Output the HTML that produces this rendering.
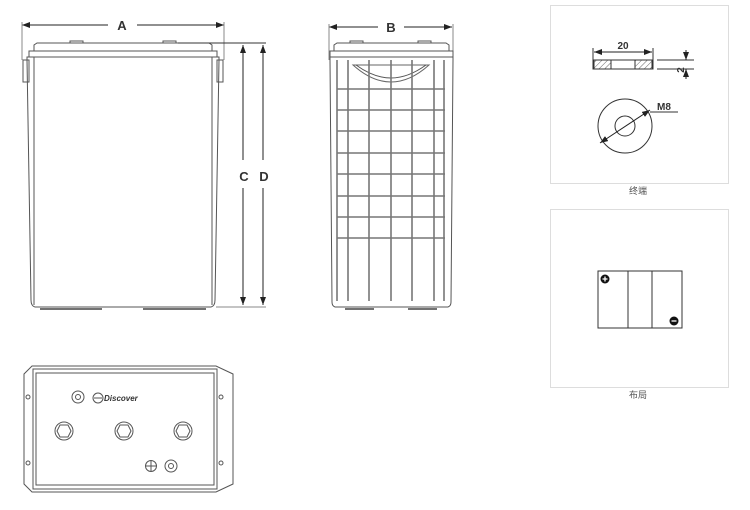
<!DOCTYPE html>
<html><head><meta charset="utf-8"><style>
html,body{margin:0;padding:0;background:#fff;width:750px;height:510px;overflow:hidden}
svg{display:block}
text{font-family:"Liberation Sans","Noto Sans CJK SC",sans-serif}
</style></head><body>
<svg width="750" height="510" viewBox="0 0 750 510" xmlns="http://www.w3.org/2000/svg">
<defs>
<marker id="ar" markerWidth="8" markerHeight="6" refX="8" refY="3" orient="auto-start-reverse" markerUnits="userSpaceOnUse"><path d="M0,0 L8,3 L0,6 z" fill="#222"/></marker>
<pattern id="hatch" width="4" height="4" patternUnits="userSpaceOnUse" patternTransform="rotate(45)"><line x1="0" y1="0" x2="0" y2="4" stroke="#444" stroke-width="0.8"/></pattern>
</defs>
<g fill="none" stroke="#555" stroke-width="1">
<!-- FRONT VIEW -->
<line x1="22" y1="25" x2="108" y2="25" stroke="#222" marker-start="url(#ar)"/>
<line x1="137" y1="25" x2="224" y2="25" stroke="#222" marker-end="url(#ar)"/>
<line x1="22" y1="22" x2="22" y2="60" stroke="#888"/>
<line x1="224" y1="22" x2="224" y2="60" stroke="#888"/>
<path d="M34,51 L34,45 L37,43 L209,43 L212,45 L212,51"/>
<rect x="70" y="41" width="13" height="2"/><rect x="163" y="41" width="13" height="2"/>
<rect x="29" y="51" width="188" height="6"/>
<rect x="23" y="60" width="6" height="22"/><rect x="217" y="60" width="6" height="22"/>
<path d="M27,57 L27,60 L31,300 Q31,306 35,307 L211,307 Q215,306 215,300 L219,60 L219,57 Z"/>
<path d="M34,57 L34,305 M212,57 L212,305"/>
<line x1="40" y1="309" x2="102" y2="309" stroke="#444" stroke-width="1.5"/>
<line x1="143" y1="309" x2="206" y2="309" stroke="#444" stroke-width="1.5"/>
<line x1="178" y1="43" x2="266" y2="43" stroke="#333"/>
<line x1="216" y1="307" x2="266" y2="307" stroke="#888"/>
<line x1="243" y1="160" x2="243" y2="45" stroke="#222" marker-end="url(#ar)"/>
<line x1="243" y1="188" x2="243" y2="305" stroke="#222" marker-end="url(#ar)"/>
<line x1="263" y1="160" x2="263" y2="45" stroke="#222" marker-end="url(#ar)"/>
<line x1="263" y1="188" x2="263" y2="305" stroke="#222" marker-end="url(#ar)"/>
<!-- SIDE VIEW -->
<line x1="329" y1="27" x2="378" y2="27" stroke="#222" marker-start="url(#ar)"/>
<line x1="404" y1="27" x2="452" y2="27" stroke="#222" marker-end="url(#ar)"/>
<line x1="329" y1="24" x2="329" y2="60" stroke="#888"/>
<line x1="453" y1="24" x2="453" y2="60" stroke="#888"/>
<path d="M334,51 L334,45 L337,43 L446,43 L449,45 L449,51"/>
<rect x="350" y="41" width="13" height="2"/><rect x="418" y="41" width="13" height="2"/>
<rect x="330" y="51" width="123" height="6"/>
<path d="M330,57 L330,60 L332,302 Q332,306 335,307 L448,307 Q451,306 451,302 L453,60 L453,57 Z"/>
<path d="M353,65 Q372,82 391,82 Q410,82 429,65 Z" stroke="#666"/>
<path d="M356,65 Q374,78 391,78 Q408,78 426,65"/>
<g stroke="#777" stroke-width="1.6">
<line x1="337" y1="60" x2="337" y2="301"/><line x1="348" y1="60" x2="348" y2="301"/>
<line x1="369" y1="60" x2="369" y2="301"/><line x1="391" y1="60" x2="391" y2="301"/>
<line x1="412" y1="60" x2="412" y2="301"/><line x1="434" y1="60" x2="434" y2="301"/>
<line x1="444" y1="60" x2="444" y2="301"/>
<line x1="337" y1="89" x2="445" y2="89"/><line x1="337" y1="110" x2="445" y2="110"/>
<line x1="337" y1="131" x2="445" y2="131"/><line x1="337" y1="153" x2="445" y2="153"/>
<line x1="337" y1="174" x2="445" y2="174"/><line x1="337" y1="196" x2="445" y2="196"/>
<line x1="337" y1="217" x2="445" y2="217"/><line x1="337" y1="238" x2="445" y2="238"/>
</g>
<line x1="345" y1="309" x2="374" y2="309" stroke="#444" stroke-width="1.5"/>
<line x1="408" y1="309" x2="437" y2="309" stroke="#444" stroke-width="1.5"/>
<!-- TOP VIEW -->
<path d="M24,374 L32,366 L216,366 L233,374 L233,484 L216,492 L32,492 L24,484 Z"/>
<rect x="33" y="369" width="184" height="120"/>
<rect x="36" y="373" width="178" height="112"/>
<circle cx="28" cy="397" r="2"/><circle cx="28" cy="463" r="2"/>
<circle cx="221" cy="397" r="2"/><circle cx="221" cy="463" r="2"/>
<circle cx="78" cy="397" r="6"/><circle cx="78" cy="397" r="2.5"/>
<circle cx="98" cy="398" r="5"/><line x1="94" y1="398" x2="102" y2="398"/>
<circle cx="64" cy="431" r="9"/><path d="M60,425 L68,425 L71,431 L68,437 L60,437 L57,431 Z"/>
<circle cx="124" cy="431" r="9"/><path d="M120,425 L128,425 L131,431 L128,437 L120,437 L117,431 Z"/>
<circle cx="183" cy="431" r="9"/><path d="M179,425 L187,425 L190,431 L187,437 L179,437 L176,431 Z"/>
<circle cx="151" cy="466" r="5.5"/><path d="M146,466 H156 M151,461 V471"/>
<circle cx="171" cy="466" r="6"/><circle cx="171" cy="466" r="2.5"/>
<!-- PANELS -->
<rect x="550.5" y="5.5" width="178" height="178" stroke="#ddd"/>
<rect x="550.5" y="209.5" width="178" height="178" stroke="#ddd"/>
<!-- washer -->
<rect x="593" y="60" width="60" height="9" stroke="#333"/>
<rect x="594" y="60" width="17" height="9" fill="url(#hatch)" stroke="#333"/>
<rect x="635" y="60" width="17" height="9" fill="url(#hatch)" stroke="#333"/>
<line x1="611" y1="60" x2="611" y2="69" stroke="#333"/><line x1="635" y1="60" x2="635" y2="69" stroke="#333"/>
<line x1="593" y1="48" x2="593" y2="60" stroke="#333"/><line x1="653" y1="48" x2="653" y2="60" stroke="#333"/>
<line x1="594" y1="52" x2="652" y2="52" stroke="#222" marker-start="url(#ar)" marker-end="url(#ar)"/>
<line x1="657" y1="60" x2="694" y2="60" stroke="#333"/><line x1="657" y1="69" x2="694" y2="69" stroke="#333"/>
<line x1="686" y1="50" x2="686" y2="60" stroke="#222" marker-end="url(#ar)"/>
<line x1="686" y1="79" x2="686" y2="69" stroke="#222" marker-end="url(#ar)"/>
<circle cx="625" cy="126" r="27" stroke="#333"/>
<circle cx="625" cy="126" r="10" stroke="#333"/>
<line x1="600" y1="143" x2="650" y2="110" stroke="#222" marker-start="url(#ar)" marker-end="url(#ar)"/>
<line x1="650" y1="112" x2="678" y2="112" stroke="#333"/>
<!-- layout -->
<rect x="598" y="271" width="84" height="57" stroke="#333"/>
<line x1="628" y1="271" x2="628" y2="328" stroke="#333"/>
<line x1="652" y1="271" x2="652" y2="328" stroke="#333"/>
</g>
<circle cx="605" cy="279" r="4.5" fill="#111"/>
<path d="M602.5,279 H607.5 M605,276.5 V281.5" stroke="#fff" stroke-width="1.3"/>
<circle cx="674" cy="321" r="4.5" fill="#111"/>
<path d="M671.5,321 H676.5" stroke="#fff" stroke-width="1.3"/>
<g fill="#333" font-weight="bold">
<text x="122" y="30" font-size="13" text-anchor="middle">A</text>
<text x="391" y="32" font-size="13" text-anchor="middle">B</text>
<text x="244" y="181" font-size="13" text-anchor="middle">C</text>
<text x="264" y="181" font-size="13" text-anchor="middle">D</text>
<text x="623" y="49" font-size="10" text-anchor="middle">20</text>
<text x="664" y="110" font-size="10" text-anchor="middle">M8</text>
<text x="0" y="0" font-size="10" transform="translate(684,70) rotate(-90)" text-anchor="middle">2</text>
<text x="104" y="401" font-size="8" font-style="italic">Discover</text>
</g>
<text x="638" y="194" font-size="9" fill="#555" text-anchor="middle">终端</text>
<text x="638" y="398" font-size="9" fill="#555" text-anchor="middle">布局</text>
</svg>
</body></html>
